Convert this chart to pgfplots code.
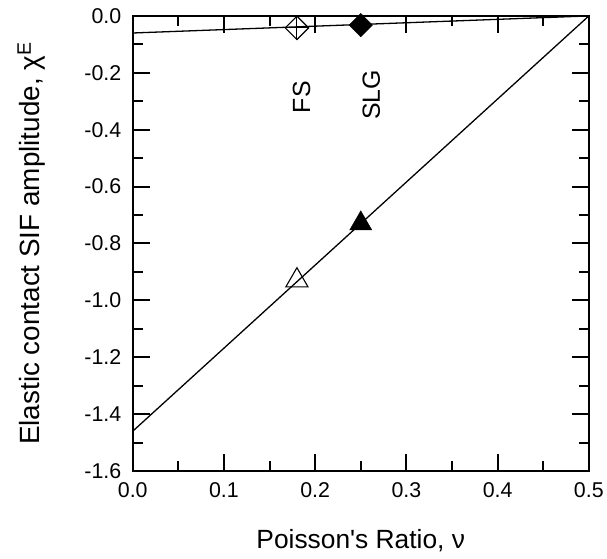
\documentclass[border=0pt]{standalone}
\usepackage{pgfplots}
\pgfplotsset{compat=1.18}
\usepackage{fontspec}
\setmainfont{Liberation Sans}
\begin{document}
\begin{tikzpicture}
\begin{axis}[
  width=457bp, height=456bp, scale only axis,
  xmin=0, xmax=0.5, ymin=-1.6, ymax=0,
  xtick={0,0.1,0.2,0.3,0.4,0.5},
  ytick={-1.6,-1.4,-1.2,-1.0,-0.8,-0.6,-0.4,-0.2,0},
  minor x tick num=1, minor y tick num=1,
  tick align=inside,
  major tick length=17bp, minor tick length=10bp,
  axis line style={line width=2.4bp},
  every tick/.style={line width=2bp, black},
  tick label style={font=\fontsize{21.5}{24}\selectfont},
  xticklabel style={yshift=-8bp, /pgf/number format/.cd, fixed, fixed zerofill, precision=1, assume math mode=true},
  yticklabel style={xshift=-8bp, /pgf/number format/.cd, fixed, fixed zerofill, precision=1, assume math mode=true},
  xlabel={Poisson\textquotesingle s Ratio, ν},
  ylabel={Elastic contact SIF amplitude, χ\textsuperscript{E}},
  every axis x label/.style={at={(axis description cs:0.5,-0.171)}, anchor=base, font=\fontsize{26.5}{30}\selectfont},
  every axis y label/.style={at={(axis description cs:-0.2035,0.5)}, rotate=90, anchor=base, font=\fontsize{28}{32}\selectfont},
  clip=false,
]
\addplot[black, line width=1.3bp] coordinates {(0,-0.060) (0.5,0)};
\addplot[black, line width=1.3bp] coordinates {(0,-1.46) (0.5,0)};
\addplot[only marks, mark=square, mark size=8.3bp, mark options={rotate=45, fill=white, line width=1.1bp}] coordinates {(0.18,-0.042)};
\addplot[only marks, mark=+, mark size=11.7bp, mark options={line width=1.1bp}] coordinates {(0.18,-0.042)};
\addplot[only marks, mark=square*, mark size=8.3bp, mark options={rotate=45, fill=black}] coordinates {(0.25,-0.032)};
\addplot[only marks, mark=triangle, mark size=12.8bp, mark options={fill=white, line width=1.1bp}] coordinates {(0.18,-0.93)};
\addplot[only marks, mark=triangle*, mark size=12.8bp, mark options={fill=black}] coordinates {(0.25,-0.73)};
\node[rotate=90, anchor=center, font=\fontsize{25}{28}\selectfont] at (axis cs:0.185,-0.286) {FS};
\node[rotate=90, anchor=center, font=\fontsize{25}{28}\selectfont] at (axis cs:0.2615,-0.277) {SLG};
\path (axis description cs:-0.291,-0.193) rectangle (axis description cs:1.037,1.035);
\end{axis}
\end{tikzpicture}
\end{document}
